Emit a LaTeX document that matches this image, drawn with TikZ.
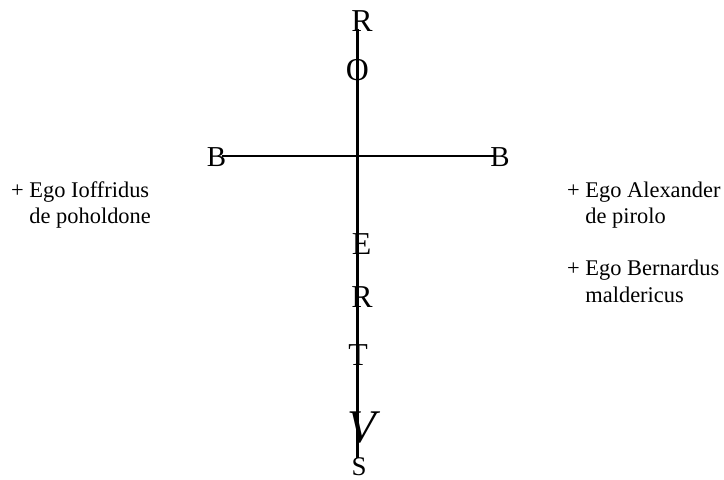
\documentclass[tikz,border=0pt]{standalone}
\usepackage{fontspec}
\setmainfont{Liberation Serif}
\begin{document}
\begin{tikzpicture}[x=1bp,y=-1bp,
  big/.style={inner sep=0pt, anchor=base, font=\fontsize{32}{32}\selectfont},
  sig/.style={inner sep=0pt, anchor=base west, font=\fontsize{22.5}{26}\selectfont},
  stem/.style={line width=3.2bp},
  arm/.style={line width=2.6bp}]
\useasboundingbox (0,0) rectangle (724,480);
% cross
\coordinate (vtop) at (357.5,29);
\coordinate (vbot) at (357.5,458);
\coordinate (hl) at (222,156);
\coordinate (hr) at (495,156);
\draw[stem] (vtop) -- (vbot);
\draw[arm] (hl) -- (hr);
% letters
\node[big] (r1) at (362,32) {R};
\node[big] (o1) at (357.5,81) {O};
\node[big, font=\fontsize{29}{29}\selectfont] (b1) at (216.5,167) {B};
\node[big, font=\fontsize{29}{29}\selectfont] (b2) at (500,167) {B};
\node[big] (e1) at (361.5,255) {E};
\node[big] (r2) at (362,307) {R};
\node[big] (t1) at (358,365) {T};
\node[big, font=\fontsize{47}{47}\selectfont\itshape] (v1) at (362,442) {V};
\node[big, font=\fontsize{27}{27}\selectfont] (s1) at (359,475) {S};
% signatures
\node[sig] (l1) at (11,198) {+ Ego Ioffridus};
\node[sig] (l2) at (11,224) {\hphantom{+ }de poholdone};
\node[sig] (a1) at (567,198) {+ Ego Alexander};
\node[sig] (a2) at (567,224) {\hphantom{+ }de pirolo};
\node[sig] (m1) at (567,276) {+ Ego Bernardus};
\node[sig] (m2) at (567,302) {\hphantom{+ }maldericus};
\end{tikzpicture}
\end{document}
